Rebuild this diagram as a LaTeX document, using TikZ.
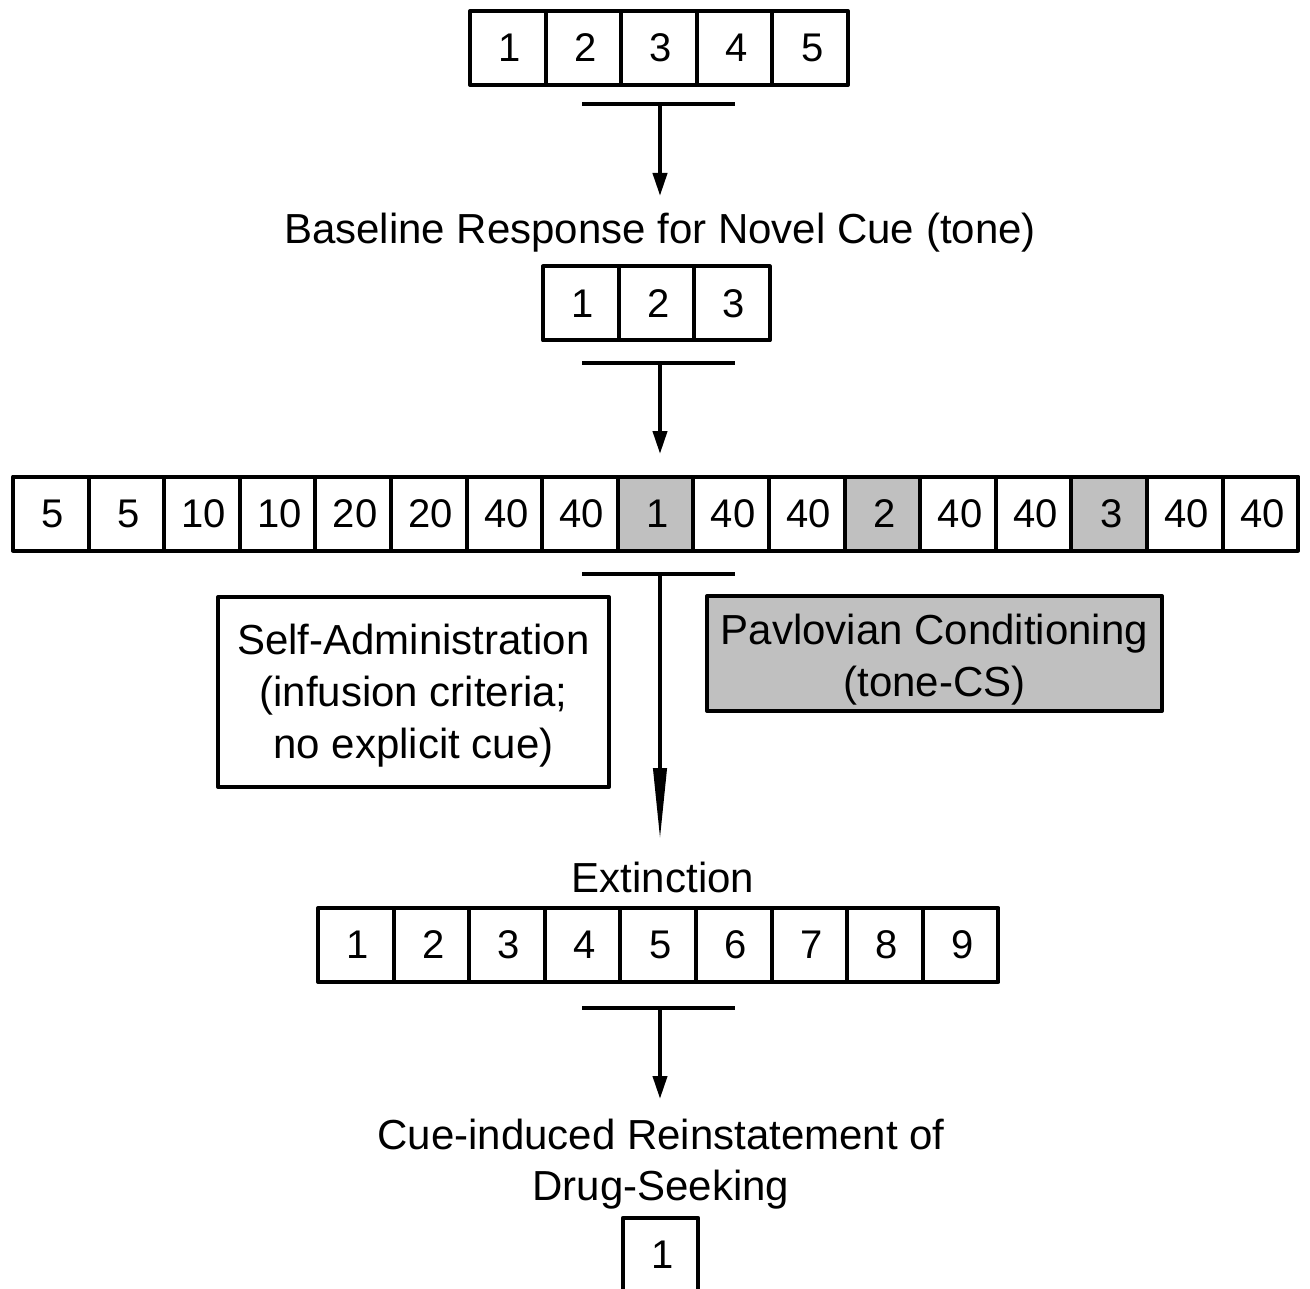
\documentclass[tikz,border=0pt]{standalone}
\usepackage{fontspec}
\setmainfont{Liberation Sans}
\usetikzlibrary{arrows.meta}
\definecolor{cellgrey}{HTML}{C0C0C0}
\begin{document}
\begin{tikzpicture}[x=1pt,y=-1pt,line join=round,
  cell/.style={draw, line width=4pt, fill=white, minimum width=75.6pt, minimum height=74pt, inner sep=0pt, font=\fontsize{40}{48}\selectfont, execute at begin node=\hspace*{4pt}},
  greycell/.style={cell, fill=cellgrey},
  bar/.style={line width=4pt},
  lbl/.style={font=\fontsize{42}{51}\selectfont, align=center, inner sep=0pt},
  shortarrow/.style={line width=4pt, -{Triangle[length=23pt,width=14pt]}},
  longarrow/.style={line width=4pt, -{Triangle[length=72pt,width=13pt]}},
  infobox/.style={draw, line width=4pt, inner sep=0pt},
  infotext/.style={font=\fontsize{42}{52}\selectfont, align=center, inner sep=0pt}]
\useasboundingbox (0,0) rectangle (1310,1289);
\fill[white] (0,0) rectangle (1310,1289);

% Row 1
\foreach \t [count=\i] in {1,2,3,4,5}
  \node[cell] (a\i) at ({470+75.6*(\i-1)+37.8},48) {\t};
\draw[bar] (582,104) -- (735,104);
\coordinate (b1) at (660,104);
\coordinate (t1) at (660,196);
\draw[shortarrow] (b1) -- (t1);
\node[lbl] (l1) at (660,233) {Baseline Response for Novel Cue (tone)};

% Row 2
\foreach \t [count=\i] in {1,2,3}
  \node[cell] (b\i) at ({543+75.6*(\i-1)+37.8},303.5) {\t};
\draw[bar] (582,363) -- (735,363);
\coordinate (b2) at (660,363);
\coordinate (t2) at (660,454);
\draw[shortarrow] (b2) -- (t2);

% Row 3
\foreach \t/\s [count=\i] in {5/cell,5/cell,10/cell,10/cell,20/cell,20/cell,40/cell,40/cell,1/greycell,40/cell,40/cell,2/greycell,40/cell,40/cell,3/greycell,40/cell,40/cell}
  \node[\s] (c\i) at ({13+75.6*(\i-1)+37.8},513.5) {\t};
\draw[bar] (582,574) -- (735,574);
\coordinate (b3) at (660,574);
\coordinate (t3) at (660,840);
\draw[longarrow] (b3) -- (t3);

\node[infobox, minimum width=391pt, minimum height=190pt] (sa) at (413.5,692) {};
\node[infotext] (sat) at (413.5,696) {Self-Administration\\(infusion criteria;\\no explicit cue)};
\node[infobox, fill=cellgrey, minimum width=455pt, minimum height=115pt] (pc) at (934.5,653.5) {};
\node[infotext] (pct) at (934.5,660) {Pavlovian Conditioning\\(tone-CS)};

\node[lbl] (l3) at (663,877) {Extinction};

% Row 4
\foreach \t [count=\i] in {1,...,9}
  \node[cell] (d\i) at ({318+75.6*(\i-1)+37.8},945) {\t};
\draw[bar] (582,1008) -- (735,1008);
\coordinate (b4) at (660,1008);
\coordinate (t4) at (660,1099);
\draw[shortarrow] (b4) -- (t4);

\node[lbl] (l4) at (661,1164) {Cue-induced Reinstatement of\\Drug-Seeking};

% Row 5
\node[cell] (e1) at (660.5,1255) {1};
\end{tikzpicture}
\end{document}
